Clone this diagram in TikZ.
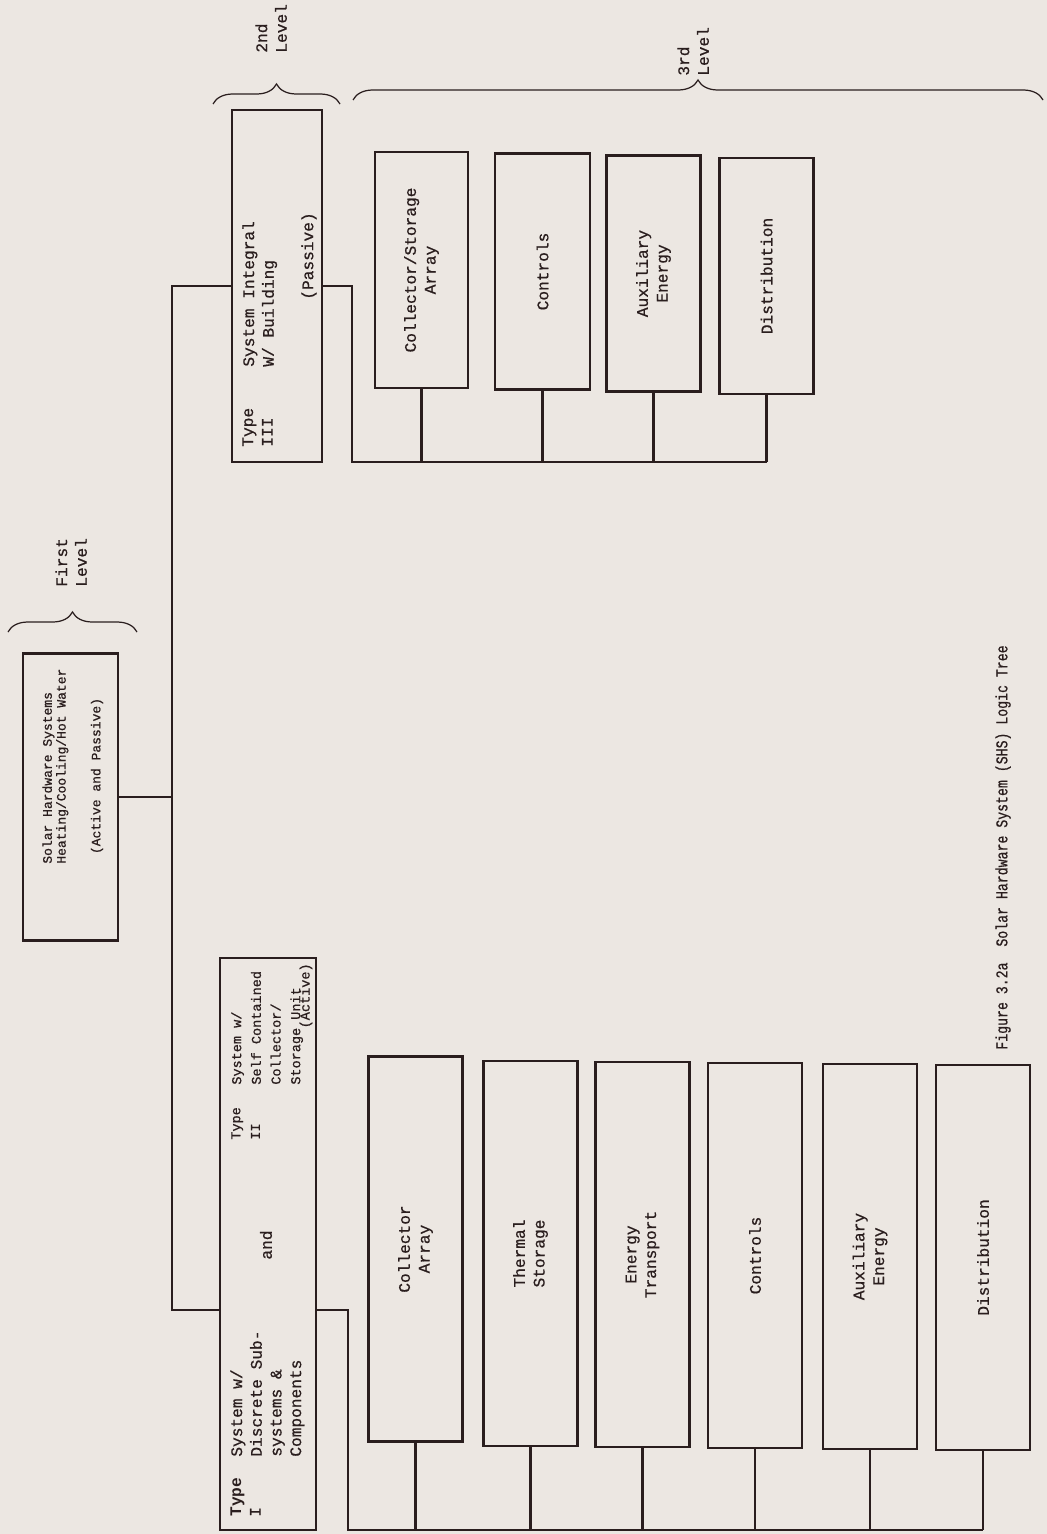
\documentclass[tikz,border=0pt]{standalone}
\usepackage{fontspec}
\setmonofont{Liberation Mono}[UprightFeatures={FakeBold=0.7}]
\newfontfamily\capfont{Liberation Mono}[FakeStretch=0.8, FakeBold=0.7]
\usetikzlibrary{decorations.pathreplacing}
\definecolor{paper}{RGB}{236,231,226}
\definecolor{ink}{RGB}{42,30,30}

\begin{document}
\begin{tikzpicture}[
  x=0.02cm, y=-0.02cm,
  box/.style={draw=ink, line width=1.5pt, rotate=90, inner sep=0pt},
  leaf/.style={box, minimum height=1.88cm, align=center, text=ink,
    font=\ttfamily\fontsize{9.2}{11.2}\selectfont},
  leafup/.style={leaf, minimum width=4.72cm},
  leafdown/.style={leaf, minimum width=7.7cm},
  txt/.style={rotate=90, align=left, inner sep=0pt, text=ink,
    font=\ttfamily\fontsize{9.2}{11.2}\selectfont},
  small/.style={txt, font=\ttfamily\fontsize{7.7}{11.2}\selectfont},
  conn/.style={draw=ink, line width=1.3pt},
  brc/.style={draw=ink, line width=0.7pt, decorate, decoration={brace, amplitude=0.4cm}}
]
\useasboundingbox (0,0) rectangle (1047,1534);
\fill[paper] (0,0) rectangle (1047,1534);

% first level
\node[box, minimum width=5.74cm, minimum height=1.9cm] (top) at (70.5,797) {};
\node[txt, anchor=north west, font=\ttfamily\fontsize{7.4}{6.8}\selectfont] (topA) at (42,864) {Solar Hardware Systems\\Heating/Cooling/Hot Water};
\node[txt, font=\ttfamily\fontsize{7.4}{6.8}\selectfont] (topB) at (97,776) {(Active and Passive)};

% second level
\node[box, minimum width=7.04cm, minimum height=1.8cm] (t3) at (277,286) {};
\node[txt, anchor=north west] (t3type) at (242,447) {Type\\III};
\node[txt, anchor=north west] (t3sys) at (242,367) {System Integral\\W/ Building};
\node[txt, anchor=east] (t3pas) at (309,212) {(Passive)};

\node[box, minimum width=11.44cm, minimum height=1.92cm] (t12) at (268,1244) {};
\node[txt, anchor=north west] (t1type) at (230,1517) {\bfseries Type\\I};
\node[txt, anchor=north west] (t1sys) at (230,1457) {System w/\\Discrete Sub-\\systems \&\\Components};
\node[txt] (tand) at (266,1245) {and};
\node[small, anchor=north west] (t2type) at (231,1140) {Type\\II};
\node[small, anchor=north west] (t2sys) at (231,1085) {System w/\\Self Contained\\Collector/\\Storage Unit};
\node[small, anchor=east] (t2act) at (306,963) {(Active)};

% third level, passive
\node[leafup, minimum height=1.86cm] (csa) at (421.5,270) {Collector/Storage\\Array};
\node[leafup, minimum height=1.9cm] (ctl3) at (542.5,271.5) {Controls};
\node[leafup] (aux3) at (653.5,273.5) {Auxiliary\\Energy};
\node[leafup] (dst3) at (766.5,276) {Distribution};

% third level, active
\node[leafdown] (ca) at (415.5,1249) {Collector\\Array};
\node[leafdown] (ts) at (530.5,1253.5) {Thermal\\Storage};
\node[leafdown] (et) at (642.5,1254.5) {Energy\\Transport};
\node[leafdown] (ctl) at (755,1255.5) {Controls};
\node[leafdown] (aux) at (870,1256.5) {Auxiliary\\Energy};
\node[leafdown] (dst) at (983,1257.5) {Distribution};

% tree lines
\coordinate (jt) at (172,1310);
\coordinate (j3) at (352,462);
\coordinate (j12) at (348,1530);
\draw[conn] (top.south) -- (top.south -| jt);
\draw[conn] (t3.north) -| (jt) -- (jt -| t12.north);
\draw[conn] (t3.south) -| (j3) -- (j3 -| dst3.west);
\foreach \n in {csa,ctl3,aux3,dst3}
  \draw[conn] (\n.west) -- (\n.west |- j3);
\draw[conn] (t12.south |- jt) -| (j12) -- (j12 -| dst.west);
\foreach \n in {ca,ts,et,ctl,aux,dst}
  \draw[conn] (\n.west) -- (\n.west |- j12);

% level braces
\draw[brc] (8,632) -- (137,632);
\draw[brc] (213,104) -- (340,104);
\draw[brc] (353,100) -- (1043,100);
\node[txt, anchor=north west] (lv1) at (55,587) {First\\Level};
\node[txt, anchor=north west] (lv2) at (255,53) {2nd\\Level};
\node[txt, anchor=north west] (lv3) at (677,76) {3rd\\Level};

\node[txt, anchor=north west, font=\capfont\fontsize{9.4}{11}\selectfont] (cap) at (995,1050) {Figure 3.2a\ \ Solar Hardware System (SHS) Logic Tree};
\end{tikzpicture}
\end{document}
